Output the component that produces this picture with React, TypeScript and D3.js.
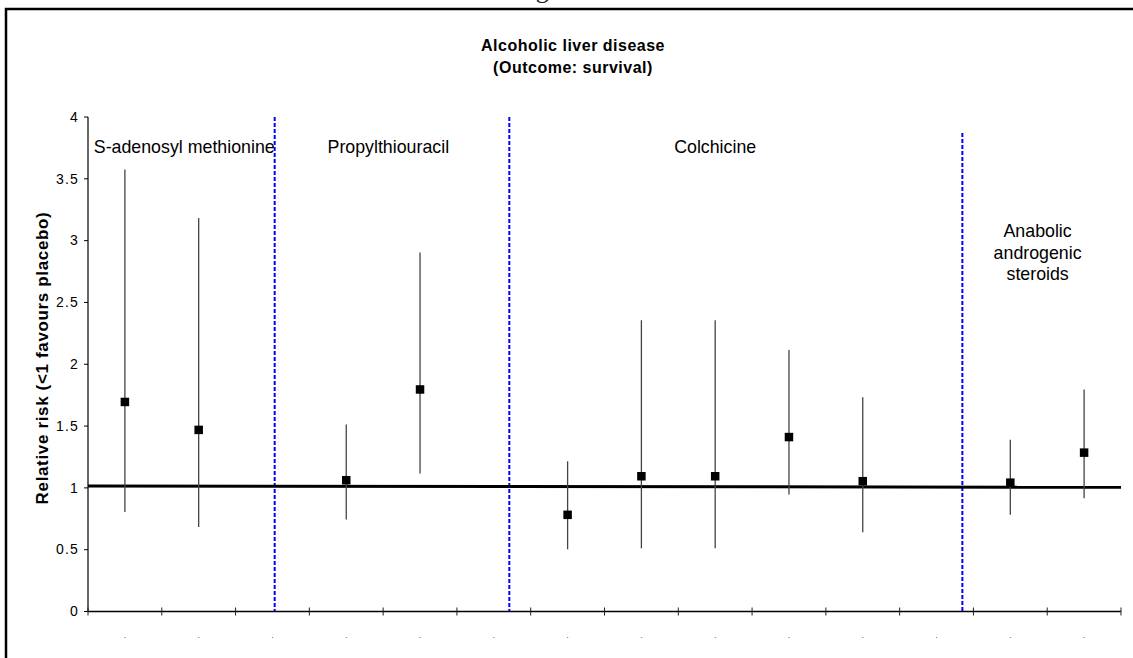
import React from "react";
import * as d3 from "d3";

// one entry per category slot (14 slots on the x axis, some empty)
const slots = [1, 2, 3, 4, 5, 6, 7, 8, 9, 10, 11, 12, 13, 14];
const slotLabels = slots.map(() => ".");

// trials: slot, point estimate, lower CI, upper CI
const trialSlot = [1, 2, 4, 5, 7, 8, 9, 10, 11, 13, 14];
const relRisk = [1.695, 1.469, 1.062, 1.796, 0.782, 1.094, 1.094, 1.411, 1.054, 1.042, 1.285];
const lowerCI = [0.805, 0.684, 0.745, 1.116, 0.503, 0.511, 0.511, 0.946, 0.642, 0.783, 0.916];
const upperCI = [3.575, 3.184, 1.513, 2.903, 1.215, 2.356, 2.356, 2.116, 1.733, 1.39, 1.795];

// reference line (no effect) drawn across the plot
const refX = [0.5, 14.5];
const refY = [1.015, 1.005];

// blue dashed dividers between drug groups
const dividerX = [3.03, 6.21, 12.35];
const dividerTop = [4, 4, 3.87];

const yTicks = [0, 0.5, 1, 1.5, 2, 2.5, 3, 3.5, 4];

const groups = [
  { lines: ["S-adenosyl methionine"], x: 3.03, anchor: "end" },
  { lines: ["Propylthiouracil"], x: 4.57, anchor: "middle" },
  { lines: ["Colchicine"], x: 9, anchor: "middle" },
  { lines: ["Anabolic", "androgenic", "steroids"], x: 13.37, anchor: "middle" },
];

const W = 1133;
const H = 658;
const font = "Arial, 'Liberation Sans', sans-serif";

export default function App() {
  const x = d3.scaleLinear().domain([0.5, 14.5]).range([88, 1121]);
  const y = d3.scaleLinear().domain([0, 4]).range([611.5, 117]);

  const refLine = d3
    .line<number>()
    .x((d, i) => x(refX[i]))
    .y((d) => y(d));

  const bounds = d3.range(0.5, 15, 1);

  return (
    <svg
      width={W}
      height={H}
      style={{ position: "absolute", left: 0, top: 0, background: "#fff" }}
      fontFamily={font}
    >
      {/* page caption above the frame, clipped by the page edge as in the original */}
      <text x={514} y={-2} fontFamily="'Liberation Serif', serif" fontSize={26} fill="#222">
        Figure 8
      </text>

      {/* frame */}
      <path d={`M6,${H} V9 H${W}`} fill="none" stroke="#000" strokeWidth={2.5} />

      {/* title */}
      <text x={573} y={51} textAnchor="middle" fontSize={16} letterSpacing={0.5} fontWeight="bold" fill="#000">
        Alcoholic liver disease
      </text>
      <text x={573} y={73} textAnchor="middle" fontSize={16} letterSpacing={0.5} fontWeight="bold" fill="#000">
        (Outcome: survival)
      </text>

      {/* y axis title */}
      <text
        transform={`translate(48, 358) rotate(-90)`}
        textAnchor="middle"
        fontSize={17}
        letterSpacing={0.65}
        fontWeight="bold"
        fill="#000"
      >
        Relative risk (&lt;1 favours placebo)
      </text>

      {/* y axis */}
      <line x1={x(0.5)} x2={x(0.5)} y1={y(4)} y2={y(0)} stroke="#000" strokeWidth={1.2} />
      {yTicks.map((t) => (
        <g key={t}>
          <line x1={x(0.5) - 4} x2={x(0.5)} y1={y(t)} y2={y(t)} stroke="#000" strokeWidth={1} />
          <text x={79} y={y(t) + 4.8} textAnchor="end" fontSize={14} letterSpacing={1.2} fill="#000">
            {t}
          </text>
        </g>
      ))}

      {/* x axis */}
      <line x1={x(0.5)} x2={x(14.5)} y1={y(0)} y2={y(0)} stroke="#000" strokeWidth={1.3} />
      {bounds.map((b) => (
        <line key={b} x1={x(b)} x2={x(b)} y1={y(0) - 4} y2={y(0) + 4} stroke="#222" strokeWidth={1} />
      ))}
      {slots.map((s, i) => (
        <text key={s} x={x(s)} y={638} textAnchor="middle" fontSize={9} fill="#555">
          {slotLabels[i]}
        </text>
      ))}

      {/* group dividers */}
      {dividerX.map((d, i) => (
        <line
          key={d}
          x1={x(d)}
          x2={x(d)}
          y1={y(dividerTop[i])}
          y2={y(0)}
          stroke="#0000ff"
          strokeWidth={2}
          strokeDasharray="4,2"
        />
      ))}

      {/* group labels */}
      {groups.map((g) => (
        <text key={g.lines[0]} x={x(g.x)} y={152.5} textAnchor={g.anchor} fontSize={17.8} fill="#000">
          {g.lines.length === 1
            ? g.lines[0]
            : g.lines.map((l, i) => (
                <tspan key={l} x={x(g.x)} y={237 + i * 21.5}>
                  {l}
                </tspan>
              ))}
        </text>
      ))}

      {/* no-effect line */}
      <path d={refLine(refY) || ""} fill="none" stroke="#000" strokeWidth={3} />

      {/* error bars and point estimates */}
      {trialSlot.map((s, i) => (
        <g key={s}>
          <line x1={x(s)} x2={x(s)} y1={y(lowerCI[i])} y2={y(upperCI[i])} stroke="#444" strokeWidth={1.3} />
          <rect x={x(s) - 4.25} y={y(relRisk[i]) - 4.25} width={8.5} height={8.5} fill="#000" />
        </g>
      ))}
    </svg>
  );
}
